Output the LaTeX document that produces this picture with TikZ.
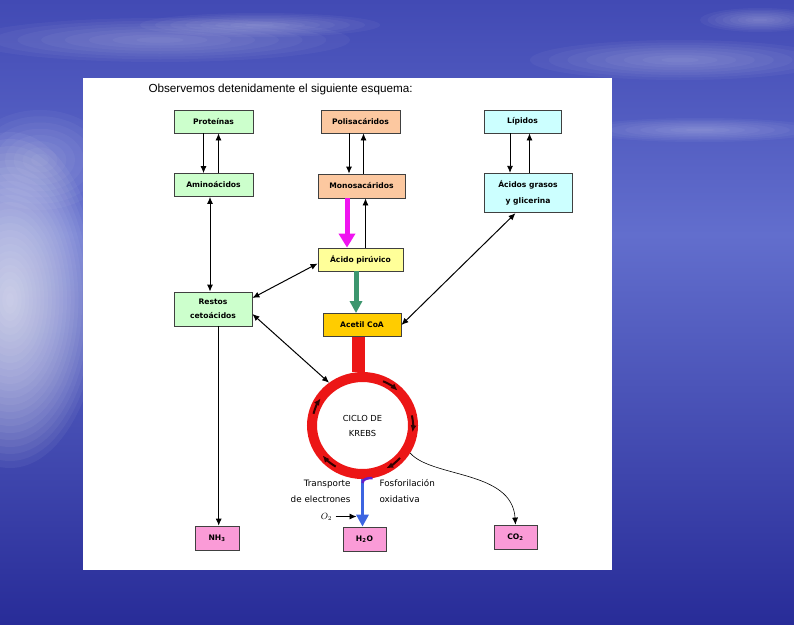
\documentclass[tikz,border=0pt]{standalone}
\usepackage{fontspec}
\setmainfont{Liberation Sans}
\newfontfamily\comicish{DejaVu Sans}
\usetikzlibrary{arrows.meta,shapes.geometric}
\definecolor{skytop}{RGB}{66,74,180}
\definecolor{skylight}{RGB}{98,110,205}
\definecolor{seadark}{RGB}{40,44,152}
\definecolor{protgreen}{RGB}{204,255,204}
\definecolor{sugar}{RGB}{252,200,160}
\definecolor{lipcyan}{RGB}{204,255,255}
\definecolor{pyruv}{RGB}{255,255,153}
\definecolor{acetyl}{RGB}{255,204,0}
\definecolor{product}{RGB}{250,155,215}
\definecolor{krebsred}{RGB}{236,22,22}
\definecolor{sugarpink}{RGB}{240,20,240}
\definecolor{acetgreen}{RGB}{60,150,110}
\definecolor{elecblue}{RGB}{60,100,225}
\definecolor{hookpurple}{RGB}{100,30,200}

\begin{document}
\begin{tikzpicture}[x=1pt, y=-1pt,
            box/.style={draw=black!75, line width=0.8pt, inner sep=0pt, minimum width=79pt, minimum height=23pt, align=center, font=\comicish\bfseries\fontsize{7.6}{14}\selectfont},
            arrow/.style={-{Latex[length=7pt,width=6pt]}, line width=0.8pt},
            dblarrow/.style={{Latex[length=7pt,width=6pt]}-{Latex[length=7pt,width=6pt]}, line width=1pt},
            sugarflow/.style={-{Triangle[length=14pt,width=16pt]}, line width=5pt, draw=sugarpink},
            acetylflow/.style={-{Triangle[length=12pt,width=12pt]}, line width=5pt, draw=acetgreen},
            electronflow/.style={-{Triangle[length=12pt,width=12pt]}, line width=3.5pt, draw=elecblue},
            hookline/.style={line width=2.5pt, draw=hookpurple},
            ringarrow/.style={-{Latex[length=7pt,width=6pt]}, line width=2pt, draw=black!80!red},
            haze/.style={white, opacity=0.04},
            note/.style={font=\comicish\fontsize{8.8}{16}\selectfont}
        ]
            % Sky and sea behind the slide
            \useasboundingbox (0,0) rectangle (794,624);
            \shade[top color=skytop, bottom color=skylight] (0,0) rectangle (794,235);
            \shade[top color=skylight, bottom color=seadark] (0,235) rectangle (794,624);
            \foreach \s in {1,...,24}
                \fill[white, opacity=0.05] (10,300) ellipse[x radius=3.8*\s, y radius=7*\s];
            \foreach \cx/\cy/\rx/\ry in {160/40/190/22, 260/25/120/12, 680/60/150/20, 700/130/120/12, 40/160/70/50, 760/20/60/12}
                \foreach \s in {1,...,8}
                    \fill[haze] (\cx,\cy) ellipse[x radius=\rx*\s/8, y radius=\ry*\s/8];
            \fill[white] (83,78) rectangle (612,570);

            \node[anchor=base west, font=\fontsize{11.7}{14}\selectfont] (title) at (145,92) {Observemos detenidamente el siguiente esquema:};

            % Sources on top
            \node[box, fill=protgreen] (prot) at (213.5,121.5) {Proteínas};
            \node[box, fill=sugar] (polis) at (360.5,121.5) {Polisacáridos};
            \node[box, fill=lipcyan, minimum width=77pt] (lip) at (522.5,121.5) {Lípidos};

            % Building blocks
            \node[box, fill=protgreen] (amino) at (213.5,185) {Aminoácidos};
            \node[box, fill=sugar, minimum width=87pt, minimum height=24pt] (mono) at (361.5,186) {Monosacáridos};
            \node[box, fill=lipcyan, minimum width=88pt, minimum height=39.5pt, font=\comicish\bfseries\fontsize{7.6}{16}\selectfont] (grasos) at (528,193) {Ácidos grasos\\y glicerina};
            \node[box, fill=pyruv, minimum width=85pt] (piruv) at (360.5,259.5) {Ácido pirúvico};
            \node[box, fill=protgreen, minimum width=78pt, minimum height=34pt] (restos) at (213,309) {Restos\\cetoácidos};
            \node[box, fill=acetyl, minimum width=78pt] (acetil) at (362,325) {Acetil CoA};

            % Products at the bottom
            \node[box, fill=product, minimum width=44pt, minimum height=24pt] (nh3) at (217,538) {NH\textsubscript{3}};
            \node[box, fill=product, minimum width=43pt, minimum height=24pt] (h2o) at (364.5,539) {H\textsubscript{2}O};
            \node[box, fill=product, minimum width=43pt, minimum height=24pt] (co2) at (515.5,537) {CO\textsubscript{2}};

            % Krebs ring
            \node[ellipse, draw=krebsred, line width=10pt, minimum width=101pt, minimum height=97pt, inner sep=0pt, align=center, font=\comicish\fontsize{8.3}{15}\selectfont] (krebs) at (362.5,425.5) {CICLO DE\\KREBS};
            \fill[krebsred] ([xshift=-10pt]acetil.south) rectangle ([xshift=2pt]krebs.north);
            \foreach \a in {-66,-12,42,122,194}
                \draw[ringarrow] (krebs.center) ++(\a:50.5 and 48.5) arc[start angle=\a, delta angle=20, x radius=50.5, y radius=48.5];

            % Connectors
            \draw[arrow] ([xshift=-10pt]prot.south) -- ([xshift=-10pt]amino.north);
            \draw[arrow] ([xshift=5pt]amino.north) -- ([xshift=5pt]prot.south);
            \draw[arrow] ([xshift=-11.5pt]polis.south) -- ([xshift=-11.5pt]polis.south |- mono.north);
            \draw[arrow] ([xshift=3pt]polis.south |- mono.north) -- ([xshift=3pt]polis.south);
            \draw[arrow] ([xshift=-12.5pt]lip.south) -- ([xshift=-12.5pt]lip.south |- grasos.north);
            \draw[arrow] ([xshift=7pt]lip.south |- grasos.north) -- ([xshift=7pt]lip.south);
            \draw[dblarrow] ([xshift=-3.5pt]amino.south) -- ([xshift=-3.5pt]amino.south |- restos.north);
            \draw[sugarflow] ([xshift=-14.5pt]mono.south) -- ([xshift=-14.5pt]mono.south |- piruv.north);
            \draw[arrow] ([xshift=5pt]piruv.north) -- ([xshift=5pt]piruv.north |- mono.south);
            \draw[acetylflow] ([xshift=-4.5pt]piruv.south) -- ([xshift=-4.5pt]piruv.south |- acetil.north);
            \draw[dblarrow] ([yshift=11pt]restos.east) -- ([yshift=-4pt]piruv.west);
            \draw[dblarrow] ([yshift=-5pt]restos.east) -- (krebs.128);
            \draw[dblarrow] ([xshift=-12.5pt]grasos.south) -- (acetil.east);
            \draw[arrow] ([xshift=5.7pt]restos.south) -- ([xshift=5.7pt]restos.south |- nh3.north);
            \draw[arrow, line width=0.6pt] (krebs.-30) .. controls (432,478) and (512,470) .. (co2.north);
            \draw[electronflow] (krebs.south) -- (krebs.south |- h2o.north);
            \draw[hookline] ([yshift=-4pt]krebs.south) to[out=90,in=180] ([xshift=10pt,yshift=1pt]krebs.south);

            % Oxygen and labels
            \node[font=\fontsize{9}{10}\selectfont] (o2) at (326.5,516.5) {$O_2$};
            \draw[arrow] (o2.east) -- ([xshift=-6pt]o2.east -| krebs.south);
            \node[note, anchor=east, align=right] (transp) at (354,491) {Transporte\\de electrones};
            \node[note, anchor=west, align=left] (fosfo) at (376,491) {Fosforilación\\oxidativa};
        \end{tikzpicture}
\end{document}
